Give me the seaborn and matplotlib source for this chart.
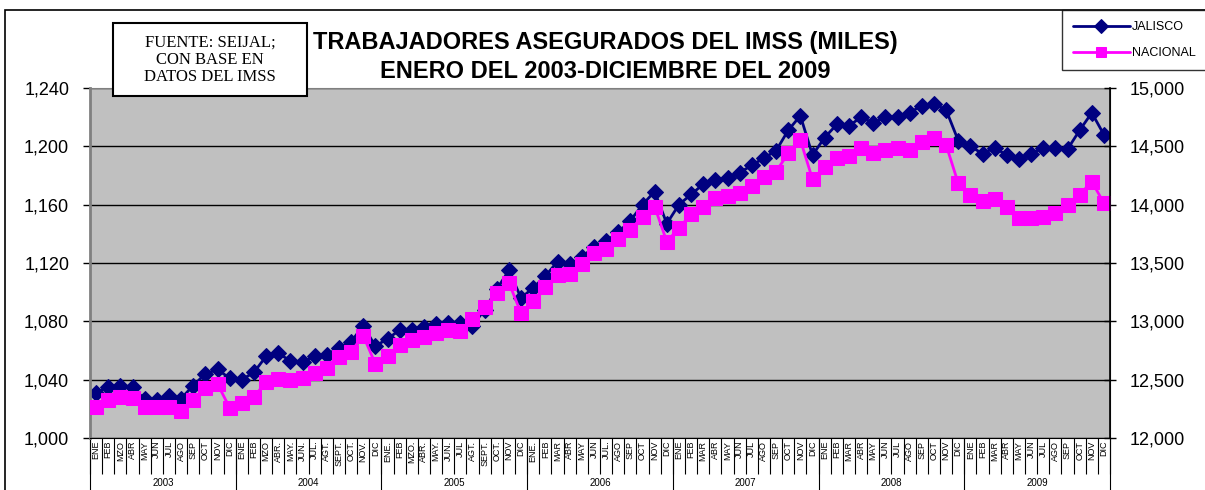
import numpy as np
import matplotlib
matplotlib.use("Agg")
import matplotlib.pyplot as plt
import matplotlib.transforms as mtransforms
from matplotlib.patches import Rectangle
from matplotlib.ticker import FuncFormatter
import seaborn as sns

# Data (thousands of insured workers)
years = ["2003", "2004", "2005", "2006", "2007", "2008", "2009"]
meses_2003 = ["ENE", "FEB", "MZO", "ABR", "MAY", "JUN", "JUL", "AGO", "SEP", "OCT", "NOV", "DIC"]
meses_2004 = ["ENE", "FEB", "MZO", "ABR.", "MAY.", "JUN.", "JUL.", "AGT.", "SEPT.", "OCT.", "NOV.", "DIC"]
meses_2005 = ["ENE.", "FEB", "MZO.", "ABR.", "MAY.", "JUN.", "JUL", "AGT.", "SEPT.", "OCT.", "NOV", "DIC"]
meses_2006 = ["ENE.", "FEB", "MAR", "ABR", "MAY", "JUN", "JUL.", "AGO", "SEP", "OCT", "NOV", "DIC"]
meses_std = ["ENE", "FEB", "MAR", "ABR", "MAY", "JUN", "JUL", "AGO", "SEP", "OCT", "NOV", "DIC"]
month_labels = meses_2003 + meses_2004 + meses_2005 + meses_2006 + meses_std * 3

jalisco = [1031, 1035, 1036, 1035, 1026.5, 1026, 1029, 1027, 1036, 1044, 1047, 1041,
           1040, 1045, 1056, 1058, 1053, 1052, 1056, 1057, 1062, 1066, 1077, 1063,
           1068, 1074, 1074, 1076, 1078, 1079, 1079, 1077, 1088, 1102, 1115, 1096,
           1103, 1111, 1121, 1119, 1124, 1131, 1135, 1141, 1149, 1160, 1169, 1147,
           1160, 1167, 1174, 1177, 1178, 1182, 1187, 1192, 1197, 1211, 1221, 1194,
           1206, 1215, 1214, 1220, 1216, 1220, 1220, 1223, 1228, 1229, 1225, 1204,
           1200, 1195, 1199, 1194, 1191, 1195, 1199, 1199, 1198, 1211, 1223, 1208]

nacional = [12269, 12326, 12354, 12346, 12269, 12269, 12269, 12234, 12326, 12431, 12463, 12260,
            12298, 12349, 12483, 12503, 12498, 12518, 12555, 12603, 12691, 12740, 12878, 12635,
            12703, 12800, 12840, 12869, 12904, 12926, 12918, 13018, 13120, 13240, 13331, 13069,
            13178, 13291, 13398, 13406, 13491, 13589, 13618, 13704, 13784, 13898, 13983, 13684,
            13798, 13920, 13978, 14055, 14075, 14098, 14160, 14235, 14284, 14440, 14555, 14218,
            14320, 14398, 14413, 14484, 14446, 14469, 14484, 14469, 14540, 14569, 14513, 14184,
            14086, 14035, 14046, 13984, 13884, 13884, 13898, 13926, 13998, 14085, 14198, 14013]

idx = np.arange(len(jalisco))

sns.set_style("white")
plt.rcParams["font.family"] = ["Liberation Sans", "DejaVu Sans"]
plt.rcParams["text.color"] = "black"
plt.rcParams["xtick.color"] = "black"
plt.rcParams["ytick.color"] = "black"

fig = plt.figure(figsize=(12.05, 4.90), dpi=100)
ax = fig.add_axes([90 / 1205, 52 / 490, 1020 / 1205, 350 / 490])
ax.set_facecolor("#C0C0C0")
ax2 = ax.twinx()

# outer chart frame
fig.patches.append(Rectangle((5 / 1205, -0.2), 1.2, 1.2 - 10 / 490, transform=fig.transFigure,
                             fill=False, edgecolor="black", linewidth=1.2))

sns.lineplot(x=idx, y=jalisco, ax=ax, color="#000080", marker="D", markersize=8,
             markeredgecolor="#000080", linewidth=2, label="JALISCO", legend=False)
sns.lineplot(x=idx, y=nacional, ax=ax2, color="#FF00FF", marker="s", markersize=10,
             markeredgecolor="#FF00FF", linewidth=2, label="NACIONAL", legend=False)

ax.set_ylim(1000, 1240)
ax.set_yticks(np.arange(1000, 1241, 40))
ax2.set_ylim(12000, 15000)
ax2.set_yticks(np.arange(12000, 15001, 500))
ax.set_xlim(-0.5, 83.5)
ax.yaxis.grid(True, color="black", linewidth=1)
ax.set_axisbelow(True)

fmt = FuncFormatter(lambda v, p: f"{int(v):,}")
ax.yaxis.set_major_formatter(fmt)
ax2.yaxis.set_major_formatter(fmt)
ax.tick_params(axis="y", labelsize=13, length=5, width=1, direction="out", left=True, pad=10)
ax2.tick_params(axis="y", labelsize=13, length=8, width=1, direction="inout", right=True, pad=10)

# month labels + separators
ax.set_xticks(idx)
ax.set_xticklabels(month_labels, rotation=90, fontsize=6.5)
ax.set_xticks(np.arange(-0.5, 84, 1), minor=True)
ax.tick_params(axis="x", which="major", length=0, pad=2)
ax.tick_params(axis="x", which="minor", length=26, width=0.8, direction="out", bottom=True)
ax.set_xlabel("")
ax.set_ylabel("")
ax2.set_ylabel("")

trans = mtransforms.blended_transform_factory(ax.transData, ax.transAxes)
for k, yr in enumerate(years):
    ax.plot([k * 12 - 0.5, k * 12 - 0.5], [0, -0.16], transform=trans, color="black",
            linewidth=0.8, clip_on=False)
    ax.text(k * 12 + 5.5, -0.128, yr, transform=trans, ha="center", va="center", fontsize=7)
ax.plot([83.5, 83.5], [0, -0.16], transform=trans, color="black", linewidth=0.8, clip_on=False)

for side in ["left", "top"]:
    ax.spines[side].set_color("#808080")
    ax2.spines[side].set_visible(False)
ax.spines["left"].set_linewidth(2)
ax.spines["bottom"].set_color("black")
ax2.spines["right"].set_color("black")
ax2.spines["right"].set_linewidth(1.2)
ax2.spines["bottom"].set_visible(False)

# titles
fig.text(605 / 1205, 1 - 42 / 490, "TRABAJADORES ASEGURADOS DEL IMSS (MILES)", ha="center",
         va="center", fontsize=17, fontweight="bold")
fig.text(605 / 1205, 1 - 72 / 490, "ENERO DEL 2003-DICIEMBRE DEL 2009", ha="center",
         va="center", fontsize=17, fontweight="bold")

# source box
fig.patches.append(Rectangle((113 / 1205, 1 - 96 / 490), 194 / 1205, 73 / 490,
                             transform=fig.transFigure, facecolor="white", edgecolor="black",
                             linewidth=1.5, zorder=5))
fig.text(210 / 1205, 1 - 60 / 490, "FUENTE: SEIJAL;\nCON BASE EN\nDATOS DEL IMSS",
         ha="center", va="center", fontsize=12, family=["Liberation Serif"],
         linespacing=1.1, zorder=6)

# legend
h1, l1 = ax.get_legend_handles_labels()
h2, l2 = ax2.get_legend_handles_labels()
leg = fig.legend(h1 + h2, l1 + l2, loc="upper left", bbox_to_anchor=(1062 / 1205, 1 - 10 / 490),
                 fontsize=9, frameon=True, fancybox=False, edgecolor="black", handlelength=4.5,
                 borderpad=0.9, labelspacing=1.1, handletextpad=0.2, borderaxespad=0)
leg.get_frame().set_linewidth(1)
for h in leg.legend_handles:
    h.set_markersize(7)

fig.savefig("out.png", dpi=100, facecolor="white")
